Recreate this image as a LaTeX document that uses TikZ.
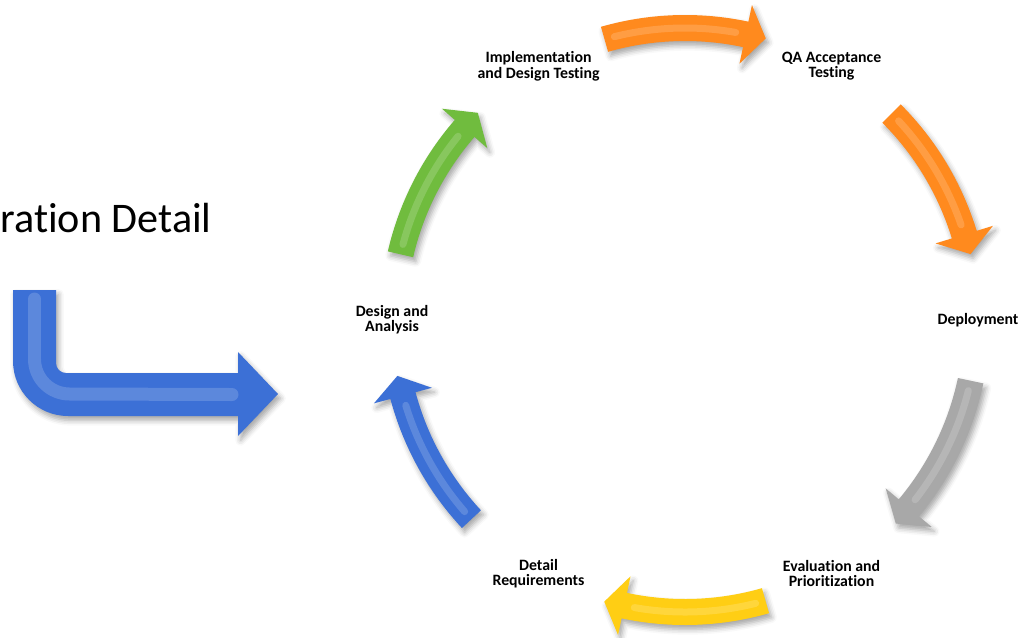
\documentclass[tikz,border=0pt]{standalone}
\usepackage{fontspec}
\setmainfont[Ligatures=NoCommon]{Carlito}
\usetikzlibrary{shadows.blur}
\definecolor{grn}{RGB}{112,188,62}
\definecolor{org}{RGB}{255,138,30}
\definecolor{gry}{RGB}{168,168,168}
\definecolor{ylw}{RGB}{255,206,20}
\definecolor{blu}{RGB}{60,112,214}
\begin{document}
\begin{tikzpicture}[x=0.02cm, y=0.02cm, line join=round,
  lbl/.style={font=\bfseries\fontsize{9}{8.6}\selectfont, align=center, inner sep=0pt},
  softshadow/.style={blur shadow={shadow xshift=1.5pt, shadow yshift=-2.5pt, shadow opacity=35, shadow blur radius=3pt}},
  shine/.style={white, opacity=.17, line width=0.14cm, line cap=round}]
\useasboundingbox (0,0) rectangle (1023,637);
\node[anchor=base west, inner sep=0pt, font=\fontsize{24}{28}\selectfont] (title) at (0,405) {ration Detail};
\fill[blu, softshadow] (13,347) -- (13,276) arc[start angle=180, end angle=270, radius=55] -- (238,221) -- (238,201) -- (278,243) -- (238,285) -- (238,264) -- (66,264) arc[start angle=270, end angle=180, radius=10] -- (56,347) -- cycle;
\draw[shine, line width=0.26cm] (34.5,338) -- (34.5,278) arc[start angle=180, end angle=270, radius=35] -- (232,242.5);
\begin{scope}[shift={(685,317)}]
  \foreach \a/\c in {151/grn, 90/org, 29/org, -28/gry, -90/ylw, -153/blu}{
    \fill[\c, softshadow] ({\a+16}:279) arc[start angle=\a+16, end angle=\a-12, radius=279] -- ({\a-12}:262) -- ({\a-16}:293) -- ({\a-12}:322) -- ({\a-12}:305) arc[start angle=\a-12, end angle=\a+16, radius=305] -- cycle;
    \draw[shine] ({\a+14}:292) arc[start angle=\a+14, end angle=\a-10, radius=292];
  }
  \node[lbl] (design) at (180:293) {Design and\\Analysis};
  \node[lbl] (impl) at (120:293) {Implementation\\and Design Testing};
  \node[lbl] (qa) at (60:293) {QA Acceptance\\Testing};
  \node[lbl] (deploy) at (0:293) {Deployment};
  \node[lbl] (eval) at (-60:293) {Evaluation and\\Prioritization};
  \node[lbl] (detail) at (-120:293) {Detail\\Requirements};
\end{scope}
\end{tikzpicture}
\end{document}
